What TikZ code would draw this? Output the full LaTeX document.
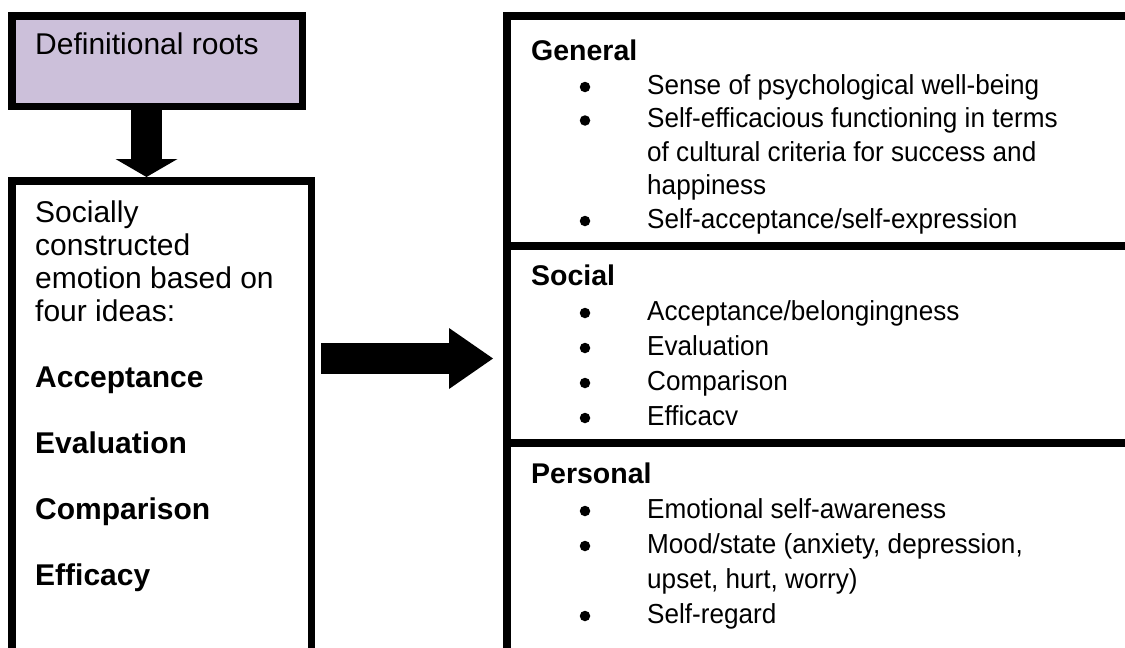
\documentclass[tikz,border=0pt]{standalone}
\usepackage{fontspec}
\setmainfont{Liberation Sans}
\newfontfamily\narrowsans[FakeStretch=0.95]{Liberation Sans}
\usetikzlibrary{arrows.meta}
\definecolor{rootfill}{RGB}{204,192,218}
\begin{document}
\begin{tikzpicture}[x=1pt,y=-1pt,
  frame/.style={draw=black, line width=7.5pt, inner sep=0pt, anchor=north west},
  lefttext/.style={anchor=base west, inner sep=0pt, font=\fontsize{30}{33}\selectfont},
  righthead/.style={anchor=base west, inner sep=0pt, font=\bfseries\fontsize{28.5}{34}\selectfont},
  righttext/.style={anchor=base west, inner sep=0pt, font=\narrowsans\fontsize{27.5}{34}\selectfont},
  dot/.style={circle, fill=black, inner sep=0pt, minimum size=10.5pt},
  blockarrow/.style={line width=31pt, line cap=butt}
]
\useasboundingbox (0,0) rectangle (1125,648);
\fill[white] (0,0) rectangle (1125,648);
\clip (0,0) rectangle (1125,648);

% boxes
\node[frame, fill=rootfill, minimum width=290.5pt, minimum height=90.5pt] (roots) at (8,12) {};
\node[frame, fill=white, minimum width=299.5pt, minimum height=515pt] (ideas) at (8,177) {};
\node[frame, fill=white, minimum width=629.5pt, minimum height=680pt] (rbox) at (503,12) {};
\draw[line width=7.5pt] (rbox.west |- 0,246) -- (rbox.east |- 0,246);
\draw[line width=7.5pt] (rbox.west |- 0,443) -- (rbox.east |- 0,443);

% arrows
\coordinate (dx) at (146.5,0);
\draw[blockarrow, -{Triangle[width=62pt,length=18pt,line width=0pt]}] (roots.south -| dx) -- (ideas.north -| dx);
\coordinate (ra) at (321,358.5);
\coordinate (rb) at (493,358.5);
\draw[blockarrow, -{Triangle[width=61pt,length=44pt,line width=0pt]}] (ra) -- (rb);

% left texts
\node[lefttext] (t0) at (35,54) {Definitional roots};
\node[lefttext] (l1) at (35,222) {Socially};
\node[lefttext] (l2) at (35,255) {constructed};
\node[lefttext] (l3) at (35,288) {emotion based on};
\node[lefttext] (l4) at (35,321) {four ideas:};
\node[lefttext] (l5) at (35,387) {\bfseries Acceptance};
\node[lefttext] (l6) at (35,453) {\bfseries Evaluation};
\node[lefttext] (l7) at (35,519) {\bfseries Comparison};
\node[lefttext] (l8) at (35,585) {\bfseries Efficacy};

% right texts: General
\node[righthead] (h1) at (531,60) {General};
\node[dot] (b11) at (585,87) {};
\node[righttext] (g1) at (647,94) {Sense of psychological well-being};
\node[dot] (b12) at (585,120.5) {};
\node[righttext] (g2) at (647,127.5) {Self-efficacious functioning in terms};
\node[righttext] (g3) at (647,161) {of cultural criteria for success and};
\node[righttext] (g4) at (647,194.5) {happiness};
\node[dot] (b13) at (585,221) {};
\node[righttext] (g5) at (647,228) {Self-acceptance/self-expression};

% Social
\node[righthead] (h2) at (531,285) {Social};
\node[dot] (b21) at (585,313) {};
\node[righttext] (s1) at (647,320) {Acceptance/belongingness};
\node[dot] (b22) at (585,348) {};
\node[righttext] (s2) at (647,355) {Evaluation};
\node[dot] (b23) at (585,383) {};
\node[righttext] (s3) at (647,390) {Comparison};
\node[dot] (b24) at (585,418) {};
\node[righttext] (s4) at (647,425) {Efficacv};

% Personal
\node[righthead] (h3) at (531,483) {Personal};
\node[dot] (b31) at (585,511) {};
\node[righttext] (p1) at (647,518) {Emotional self-awareness};
\node[dot] (b32) at (585,546) {};
\node[righttext] (p2) at (647,553) {Mood/state (anxiety, depression,};
\node[righttext] (p3) at (647,588) {upset, hurt, worry)};
\node[dot] (b33) at (585,616) {};
\node[righttext] (p4) at (647,623) {Self-regard};
\end{tikzpicture}
\end{document}
